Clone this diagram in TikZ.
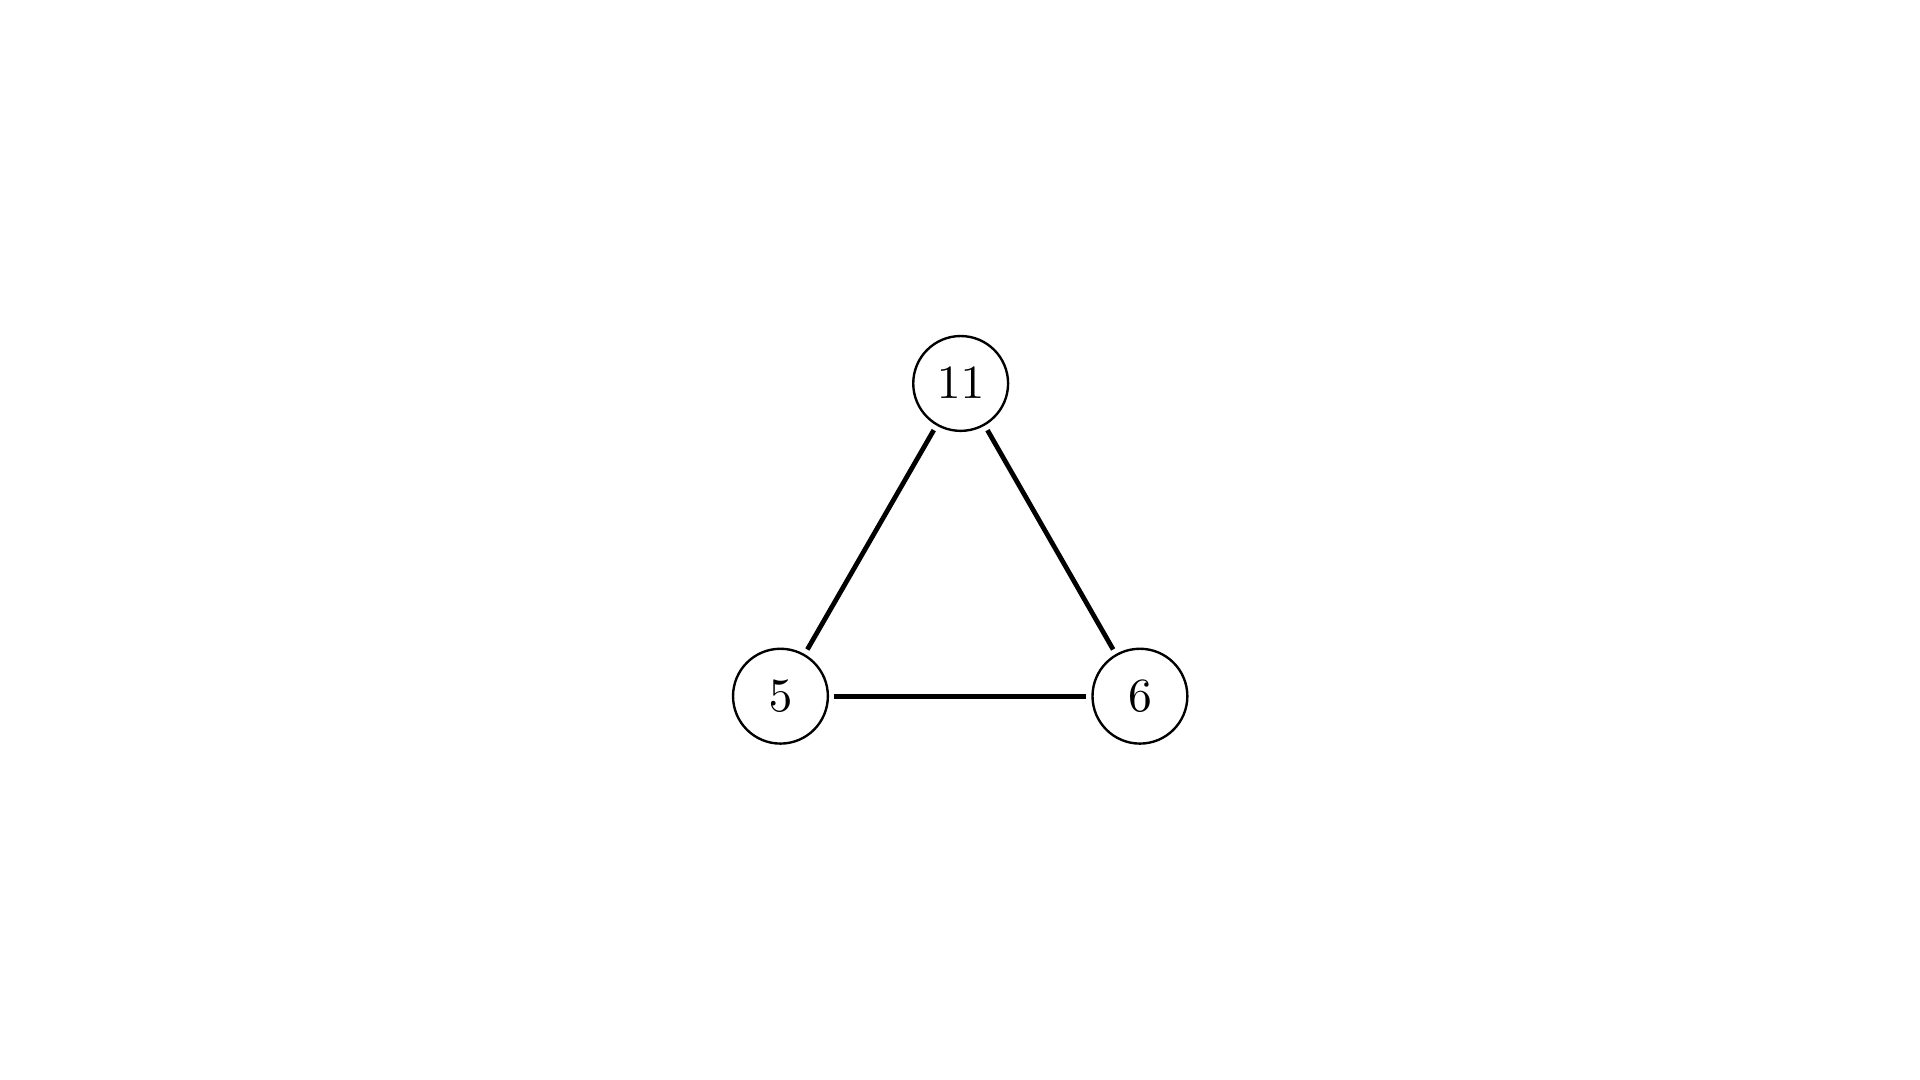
\documentclass[tikz,border=0pt]{standalone}
\usepackage{tikz}
\usepackage{amsmath}
\usetikzlibrary{positioning, calc}

\begin{document}
\begin{tikzpicture}[
            vertex/.style={circle, draw=black, line width=0.5pt, minimum size=7mm, inner sep=1pt,
                        font=\normalsize},
            link/.style={line width=1pt, black, shorten <=1.1pt, shorten >=1.1pt}
        ]
            % Page frame
            \useasboundingbox (-7.09,-5.14) rectangle (7.08,2.83);

            % Vertices
            \node[vertex] (top) at (0,0) {$11$};
            \node[vertex] (left) at (-1.33,-2.308) {$5$};
            \node[vertex] (right) at (1.323,-2.308) {$6$};

            % Edges
            \draw[link] (top) -- (left);
            \draw[link] (top) -- (right);
            \draw[link] (left) -- (right);
        \end{tikzpicture}
\end{document}
